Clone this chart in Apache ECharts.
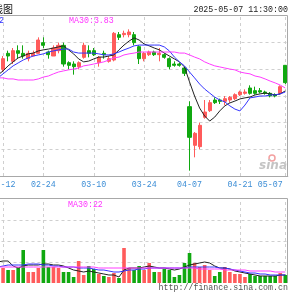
<!DOCTYPE html>
<html>
<head>
<meta charset="utf-8">
<script src="https://cdn.jsdelivr.net/npm/echarts@6/dist/echarts.min.js"></script>
<style>
html, body { margin: 0; padding: 0; background: #fff; }
#ech { width: 300px; height: 300px; }
</style>
</head>
<body>
<div id="ech"></div>
<script>
var dates = ['02-11','02-12','02-13','02-14','02-17','02-18','02-19','02-20','02-21','02-24',
	'02-25','02-26','02-27','02-28','03-03','03-04','03-05','03-06','03-07','03-10',
	'03-11','03-12','03-13','03-14','03-17','03-18','03-19','03-20','03-21','03-24',
	'03-25','03-26','03-27','03-28','03-31','04-01','04-02','04-03','04-07','04-08',
	'04-09','04-10','04-11','04-14','04-15','04-16','04-17','04-18','04-21','04-22',
	'04-23','04-24','04-25','04-28','04-29','04-30','05-06','05-07'];
var tickLabels = ['02-12', '02-24', '03-10', '03-24', '04-07', '04-21', '05-07'];
// [open, close, low, high]
var kData = [
	[3.93,3.91,3.90,3.94],[3.90,3.94,3.89,3.95],[3.96,3.95,3.93,3.97],[3.93,3.97,3.92,3.98],
	[3.97,3.96,3.94,3.99],[3.96,3.95,3.94,3.99],[3.94,3.96,3.93,3.97],[3.95,3.96,3.95,3.97],
	[3.96,4.01,3.96,4.02],[4.00,3.99,3.98,4.02],[3.965,3.955,3.94,3.97],[3.95,3.98,3.95,3.99],
	[3.97,3.99,3.96,4.00],[3.99,3.92,3.91,4.00],[3.925,3.915,3.90,3.93],[3.92,3.91,3.88,3.93],
	[3.91,3.925,3.90,3.93],[3.945,3.99,3.94,4.00],[3.97,3.96,3.945,3.99],[3.97,3.955,3.95,3.98],
	[3.925,3.945,3.91,3.95],[3.96,3.955,3.94,3.97],[3.93,3.94,3.925,3.95],[3.935,4.035,3.93,4.04],
	[4.03,4.02,4.01,4.04],[4.03,4.035,4.02,4.045],[4.03,4.04,4.02,4.05],[4.03,4.00,3.99,4.04],
	[3.985,3.94,3.92,3.99],[3.94,3.96,3.93,3.965],[3.955,3.965,3.95,3.97],[3.965,3.955,3.95,3.97],
	[3.955,3.96,3.93,3.98],[3.955,3.945,3.94,3.96],[3.94,3.91,3.90,3.945],[3.92,3.915,3.91,3.93],
	[3.92,3.915,3.91,3.925],[3.905,3.885,3.875,3.91],[3.76,3.645,3.52,3.78],[3.615,3.66,3.57,3.665],
	[3.61,3.69,3.60,3.70],[3.72,3.74,3.715,3.785],[3.745,3.775,3.74,3.785],[3.785,3.775,3.77,3.795],
	[3.785,3.78,3.77,3.79],[3.78,3.79,3.765,3.80],[3.785,3.795,3.775,3.80],[3.79,3.805,3.785,3.81],
	[3.805,3.815,3.80,3.82],[3.81,3.815,3.805,3.825],[3.83,3.81,3.805,3.84],[3.82,3.81,3.805,3.835],
	[3.82,3.815,3.81,3.83],[3.815,3.81,3.805,3.82],[3.81,3.80,3.795,3.815],[3.805,3.80,3.795,3.81],
	[3.81,3.835,3.805,3.84],[3.915,3.85,3.845,3.915]
];
var ma5 = [3.879,3.894,3.913,3.928,3.943,3.950,3.958,3.961,3.969,3.973,
	3.976,3.980,3.984,3.988,3.973,3.958,3.939,3.928,3.931,3.939,
	3.946,3.946,3.950,3.954,3.973,3.991,4.006,4.018,4.010,3.995,
	3.988,3.980,3.973,3.961,3.950,3.939,3.928,3.909,3.853,3.800,
	3.755,3.725,3.706,3.721,3.744,3.763,3.774,3.781,3.789,3.793,
	3.796,3.804,3.808,3.811,3.808,3.804,3.808,3.819];
var ma10 = [3.868,3.883,3.898,3.913,3.924,3.935,3.943,3.950,3.954,3.958,
	3.965,3.969,3.973,3.976,3.976,3.965,3.961,3.961,3.961,3.961,
	3.958,3.954,3.954,3.958,3.965,3.973,3.980,3.988,3.991,3.991,
	3.991,3.991,3.991,3.984,3.969,3.946,3.928,3.913,3.890,3.868,
	3.845,3.826,3.811,3.796,3.785,3.778,3.763,3.751,3.744,3.766,
	3.793,3.796,3.800,3.800,3.804,3.804,3.808,3.815];
var ma30 = [3.868,3.868,3.864,3.864,3.860,3.860,3.860,3.860,3.864,3.871,
	3.875,3.883,3.890,3.894,3.898,3.901,3.905,3.913,3.916,3.920,
	3.924,3.928,3.935,3.943,3.946,3.954,3.958,3.961,3.965,3.965,
	3.965,3.965,3.965,3.965,3.965,3.965,3.961,3.961,3.954,3.946,
	3.939,3.928,3.920,3.913,3.909,3.905,3.901,3.898,3.890,3.886,
	3.883,3.875,3.871,3.864,3.856,3.849,3.841,3.830];
var volume = [22,30,26,26,30,66,22,22,30,66,
	32,32,30,22,22,12,44,16,34,28,
	18,14,12,20,10,70,30,26,34,26,
	40,22,22,28,26,12,16,40,60,40,
	32,36,26,14,22,32,22,18,18,12,
	18,14,14,14,14,14,20,16];
var volMa5 = [42,44,44,34,30,34,36,36,36,38,
	38,36,36,34,30,26,24,22,24,22,
	20,18,16,16,12,26,30,30,30,32,
	34,32,30,30,28,26,28,32,36,38,
	40,42,40,34,30,30,28,24,22,20,
	18,16,14,14,14,14,16,16];
var volMa10 = [32,34,36,36,36,36,38,38,38,36,
	36,34,34,32,32,32,30,30,30,28,
	26,26,24,22,22,24,26,26,28,28,
	30,30,30,30,30,30,30,30,32,32,
	32,32,32,32,30,30,28,26,24,22,
	20,20,18,18,16,16,16,16];
var volMa30 = [32,32,32,32,32,32,32,32,32,32,
	32,32,32,32,32,32,32,32,32,32,
	30,30,30,30,30,30,30,30,30,30,
	30,30,30,30,30,30,30,30,30,30,
	28,28,28,28,28,26,26,26,26,26,
	24,24,24,24,24,22,22,22];

var RED = '#ff5b5b', GREEN = '#10a810';
var monoFont = '"Liberation Mono", "DejaVu Sans Mono", monospace';
var gridColor = '#cfcfcf';
var borderColor = '#a8a8a8';

function showEchart() {
	var myChart = echarts.init(document.getElementById('ech'));

	var volData = volume.map(function(v, i) {
		var up = kData[i][1] >= kData[i][0];
		return { value: v, itemStyle: { color: up ? RED : GREEN } };
	});
	var vLines = tickLabels.map(function(d) { return { xAxis: d }; });
	var markV = {
		silent: true, z: 1, symbol: ['none', 'none'],
		label: { show: false },
		lineStyle: { color: gridColor, type: [3, 3], width: 1 },
		emphasis: { disabled: true },
		data: vLines
	};
	function maLine(name, data, color, xi) {
		return {
			name: name, type: 'line', data: data,
			xAxisIndex: xi, yAxisIndex: xi,
			symbol: 'none', smooth: false, silent: true,
			lineStyle: { width: 1, color: color }, z: 3
		};
	}

	var option = {
		animation: false,
		grid: [
			{ left: -4.5, right: 12.2, top: 16, height: 160, containLabel: false, outerBoundsMode: 'none' },
			{ left: -4.5, right: 12.2, top: 199, height: 84, containLabel: false, outerBoundsMode: 'none' }
		],
		xAxis: [{
			type: 'category', data: dates, gridIndex: 0, boundaryGap: true,
			axisLine: { show: true, lineStyle: { color: borderColor } },
			axisTick: { show: false },
			splitLine: { show: false },
			axisLabel: {
				interval: function(idx, val) { return tickLabels.indexOf(val) >= 0; },
				color: '#3d8ed6', fontFamily: monoFont, fontSize: 8.3, margin: 5,
				hideOverlap: false,
				formatter: function(val) {
					return val === tickLabels[tickLabels.length - 1] ? '{r|' + val + '}' : val;
				},
				rich: { r: { color: '#3d8ed6', fontFamily: monoFont, fontSize: 8.3, padding: [0, 30, 0, 0] } }
			}
		}, {
			type: 'category', data: dates, gridIndex: 1, boundaryGap: true,
			axisLine: { show: false }, axisTick: { show: false },
			axisLabel: { show: false }, splitLine: { show: false }
		}],
		yAxis: [{
			type: 'value', gridIndex: 0, min: 3.5, max: 4.1, interval: 0.1,
			axisLabel: { show: false }, axisLine: { show: false }, axisTick: { show: false },
			splitLine: { show: true, lineStyle: {
				color: ['rgba(0,0,0,0)', gridColor, gridColor, gridColor, gridColor, gridColor, 'rgba(0,0,0,0)'],
				type: [3, 3] } }
		}, {
			type: 'value', gridIndex: 1, min: 0, max: 168, interval: 42,
			axisLabel: { show: false }, axisLine: { show: false }, axisTick: { show: false },
			splitLine: { show: true, lineStyle: {
				color: ['rgba(0,0,0,0)', gridColor, gridColor, gridColor, 'rgba(0,0,0,0)'],
				type: [3, 3] } }
		}],
		series: [{
			name: 'K', type: 'candlestick', data: kData,
			xAxisIndex: 0, yAxisIndex: 0, barWidth: 3.6, silent: true,
			itemStyle: { color: RED, color0: GREEN, borderColor: RED, borderColor0: GREEN, borderWidth: 1 },
			markLine: markV
		},
		maLine('MA5', ma5, '#222222', 0),
		maLine('MA10', ma10, '#3535ff', 0),
		maLine('MA30', ma30, '#ff3cff', 0),
		{
			name: 'VOL', type: 'bar', data: volData,
			xAxisIndex: 1, yAxisIndex: 1, barWidth: 3.6, silent: true,
			markLine: markV
		},
		maLine('VMA5', volMa5, '#222222', 1),
		maLine('VMA10', volMa10, '#3535ff', 1),
		maLine('VMA30', volMa30, '#ff3cff', 1)
		],
		graphic: [
			{ type: 'line', shape: { x1: 0, y1: 15.5, x2: 287.5, y2: 15.5 }, style: { stroke: borderColor, lineWidth: 1 }, silent: true },
			{ type: 'line', shape: { x1: 287.5, y1: 15.5, x2: 287.5, y2: 176 }, style: { stroke: borderColor, lineWidth: 1 }, silent: true },
			{ type: 'line', shape: { x1: 0, y1: 198.5, x2: 287.5, y2: 198.5 }, style: { stroke: borderColor, lineWidth: 1 }, silent: true },
			{ type: 'line', shape: { x1: 287.5, y1: 198.5, x2: 287.5, y2: 283 }, style: { stroke: borderColor, lineWidth: 1 }, silent: true },
			{ type: 'text', x: 13, y: 9, silent: true,
				style: { text: '日K线图', fill: '#111', font: '10px "Noto Sans CJK SC"', align: 'right', verticalAlign: 'middle' } },
			{ type: 'text', x: 4, y: 21, silent: true,
				style: { text: 'MA10:3.82', fill: '#2c2cff', font: '8.3px ' + monoFont, align: 'right', verticalAlign: 'middle' } },
			{ type: 'text', x: 69, y: 21, silent: true,
				style: { text: 'MA30:3.83', fill: '#ff33ff', font: '8.3px ' + monoFont, align: 'left', verticalAlign: 'middle' } },
			{ type: 'text', x: 288, y: 10, silent: true,
				style: { text: '2025-05-07 11:30:00', fill: '#222', font: '8.3px ' + monoFont, align: 'right', verticalAlign: 'middle' } },
			{ type: 'text', x: 68, y: 205, silent: true,
				style: { text: 'MA30:22', fill: '#ff33ff', font: '8.3px ' + monoFont, align: 'left', verticalAlign: 'middle' } },
			{ type: 'text', x: 288, y: 288, silent: true,
				style: { text: 'http://finance.sina.com.cn', fill: '#555', font: '8.3px ' + monoFont, align: 'right', verticalAlign: 'middle' } },
			{ type: 'circle', shape: { cx: 272, cy: 158, r: 3 }, silent: true,
				style: { fill: 'none', stroke: '#f3a0a0', lineWidth: 1.5 } },
			{ type: 'text', x: 287, y: 166, silent: true,
				style: { text: 'sina', fill: '#c4c4c4', font: 'italic bold 12px "DejaVu Sans"', align: 'right', verticalAlign: 'middle' } }
		]
	};
	myChart.setOption(option);
}
showEchart();
</script>
</body>
</html>
